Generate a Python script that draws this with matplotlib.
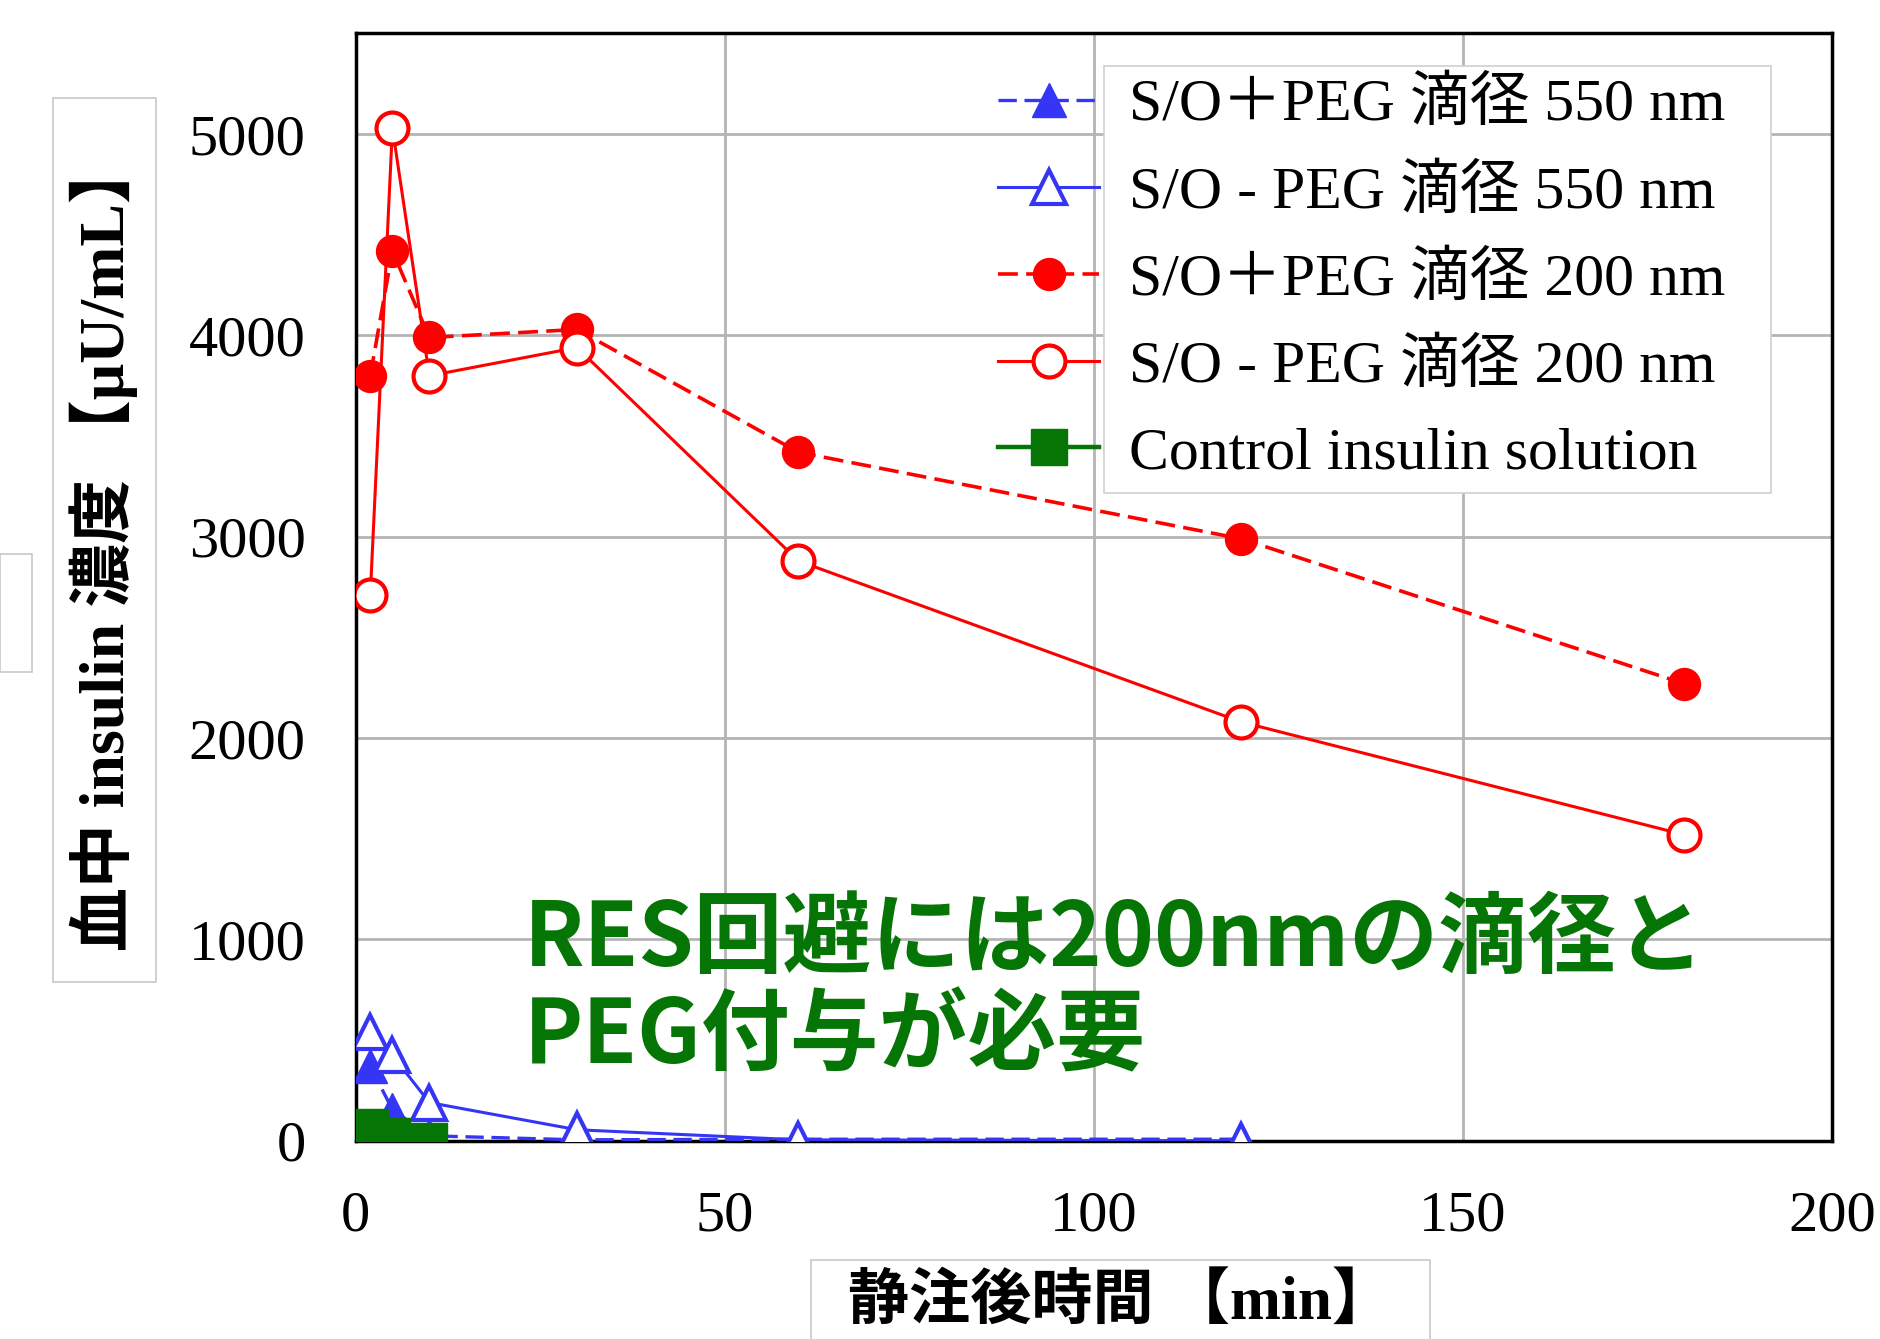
import matplotlib
matplotlib.use("Agg")
import matplotlib.pyplot as plt
from matplotlib.patches import Rectangle
from matplotlib.transforms import Bbox

# data
time_min = [2, 5, 10, 30, 60, 120, 180]
peg_plus_550 = [370, 155, 25, 5, 8, 8]
peg_minus_550 = [540, 425, 190, 55, 5, 0]
peg_plus_200 = [3800, 4420, 3990, 4030, 3420, 2990, 2270]
peg_minus_200 = [2710, 5030, 3800, 3940, 2880, 2080, 1520]
control_time = [2, 5, 10]
control = [70, 25, 0]

labels = ['S/O＋PEG 滴径 550 nm', 'S/O - PEG 滴径 550 nm',
          'S/O＋PEG 滴径 200 nm', 'S/O - PEG 滴径 200 nm',
          'Control insulin solution']
y_ticks = [0, 1000, 2000, 3000, 4000, 5000]
x_ticks = [0, 50, 100, 150, 200]

serif_cjk = ['Liberation Serif', 'Noto Sans CJK JP', 'DejaVu Sans']
blue = '#3535f5'
red = '#ff0000'
green = '#057505'

W, H = 1881, 1339
fig = plt.figure(figsize=(W / 100, H / 100), dpi=100)
ax = fig.add_axes([0.189, 0.148, 0.785, 0.827])

dash = (0, (5.5, 2.3))
ax.plot(time_min[:6], peg_plus_550, color=blue, ls=dash, lw=2.4, marker='^',
        ms=24, mfc=blue, mec=blue, label=labels[0], zorder=3)
ax.plot(time_min[:6], peg_minus_550, color=blue, ls='-', lw=2.2, marker='^',
        ms=24, mfc='white', mec=blue, mew=3, label=labels[1], zorder=3)
ax.plot(time_min, peg_plus_200, color=red, ls=dash, lw=2.6, marker='o',
        ms=23, mfc=red, mec=red, label=labels[2], zorder=3)
ax.plot(time_min, peg_minus_200, color=red, ls='-', lw=2.2, marker='o',
        ms=23, mfc='white', mec=red, mew=3, label=labels[3], zorder=3)
ax.plot(control_time, control, color=green, ls='-', lw=3.2, marker='s',
        ms=26, mfc=green, mec=green, label=labels[4], zorder=4)

ax.set_xlim(0, 200)
ax.set_ylim(0, 5500)
ax.set_xticks(x_ticks)
ax.set_yticks(y_ticks)
ax.set_xticklabels([str(v) for v in x_ticks])
ax.set_yticklabels([str(v) for v in y_ticks])
ax.grid(True, color='#b4b4b4', lw=2)
ax.set_axisbelow(True)
for s in ax.spines.values():
    s.set_linewidth(2.5)
    s.set_color('black')
ax.tick_params(length=0, labelsize=42)
ax.tick_params(axis='y', pad=36)
ax.tick_params(axis='x', pad=36)
for t in ax.get_xticklabels() + ax.get_yticklabels():
    t.set_fontfamily('Liberation Serif')

leg = ax.legend(loc='upper right', bbox_to_anchor=(0.94, 0.976), frameon=False,
                prop={'family': serif_cjk, 'size': 43},
                handlelength=1.7, handletextpad=0.5, labelspacing=0.53,
                borderaxespad=0, borderpad=0.3)
leg.set_zorder(6)

# white box behind the legend texts only (handles stay on the grid)
fig.canvas.draw()
r = fig.canvas.get_renderer()
bb = Bbox.union([t.get_window_extent(r) for t in leg.get_texts()])
bb = Bbox.from_extents(bb.x0 - 25, bb.y0 - 12, bb.x1 + 45, bb.y1 + 12)
bb = bb.transformed(ax.transAxes.inverted())
ax.add_patch(Rectangle((bb.x0, bb.y0), bb.width, bb.height, transform=ax.transAxes,
                       facecolor='white', edgecolor='#d0d0d0', lw=1.2,
                       clip_on=False, zorder=5))

# axis labels in framed boxes
box_kw = dict(transform=fig.transFigure, facecolor='white', edgecolor='#c8c8c8', lw=1.2)
fig.patches.append(Rectangle((53 / W, 1 - 982 / H), 103 / W, 884 / H, **box_kw))
fig.text(104 / W, 1 - 545 / H, '血中 insulin 濃度 【μU/mL】', rotation=90,
         ha='center', va='center', family=serif_cjk, fontsize=46, fontweight='bold')
fig.patches.append(Rectangle((811 / W, -0.01), 619 / W, 1 - 1260 / H + 0.01, **box_kw))
fig.text(1120 / W, 1 - 1303 / H, '静注後時間 【min】', ha='center', va='center',
         family=serif_cjk, fontsize=44, fontweight='bold')

# stray frame at the left edge
fig.patches.append(Rectangle((0, 1 - 672 / H), 32 / W, 118 / H, transform=fig.transFigure,
                             fill=False, edgecolor='#c8c8c8', lw=1.2))

fig.text(0.2786, 0.2614, 'RES回避には200nmの滴径と\nPEG付与が必要', ha='left', va='center',
         family=['Noto Sans CJK JP', 'DejaVu Sans'], fontsize=64, fontweight='bold',
         color=green, linespacing=1.1)

fig.savefig('out.png', dpi=100)
